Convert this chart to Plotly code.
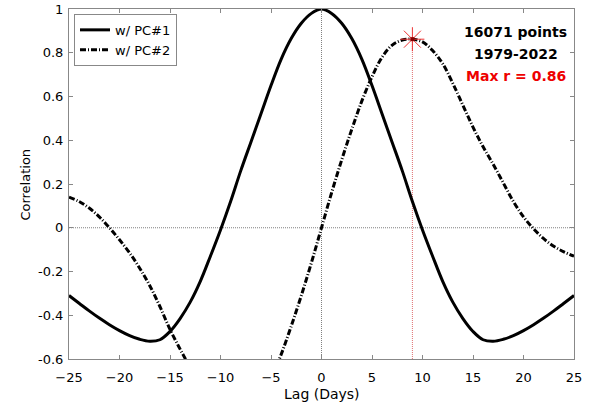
import plotly.graph_objects as go

lags = list(range(-25, 26))
corr_pc1 = [-0.31, -0.345, -0.38, -0.413, -0.443, -0.47, -0.493, -0.51, -0.519, -0.512,
            -0.474, -0.415, -0.34, -0.245, -0.13, -0.01, 0.12, 0.26, 0.39, 0.52,
            0.65, 0.77, 0.865, 0.935, 0.98, 1.0, 0.98, 0.935, 0.865, 0.77,
            0.65, 0.52, 0.39, 0.26, 0.12, -0.01, -0.13, -0.245, -0.34, -0.415,
            -0.474, -0.512, -0.519, -0.51, -0.493, -0.47, -0.443, -0.413, -0.38, -0.345, -0.31]
corr_pc2 = [0.14, 0.12, 0.09, 0.05, 0.0, -0.055, -0.115, -0.185, -0.265, -0.36,
            -0.465, -0.555, -0.64, -0.73, -0.80, -0.845, -0.862, -0.855, -0.83, -0.78,
            -0.69, -0.58, -0.45, -0.31, -0.16, 0.0, 0.16, 0.31, 0.45, 0.58,
            0.69, 0.78, 0.835, 0.858, 0.862, 0.85, 0.81, 0.75, 0.66, 0.56,
            0.46, 0.37, 0.29, 0.205, 0.12, 0.05, -0.005, -0.05, -0.085, -0.11, -0.13]
max_lag = 9
max_r = 0.862
n_points = "16071 points"
years = "1979-2022"
x_ticks = [-25, -20, -15, -10, -5, 0, 5, 10, 15, 20, 25]
y_ticks = [-0.6, -0.4, -0.2, 0, 0.2, 0.4, 0.6, 0.8, 1]
y_labels = ["-0.6", "-0.4", "-0.2", "0", "0.2", "0.4", "0.6", "0.8", "1"]

FONT = "DejaVu Sans, Liberation Sans, Arial, sans-serif"

fig = go.Figure()

# reference lines
fig.add_shape(type="line", x0=-25, x1=25, y0=0, y1=0, xref="x", yref="y",
              line=dict(color="#808080", width=1, dash="1px,1px"), layer="below")
fig.add_shape(type="line", x0=0, x1=0, y0=-0.6, y1=1, xref="x", yref="y",
              line=dict(color="#808080", width=1, dash="1px,1px"), layer="below")
fig.add_shape(type="line", x0=max_lag, x1=max_lag, y0=-0.6, y1=max_r, xref="x", yref="y",
              line=dict(color="#e07070", width=1, dash="1px,1px"), layer="below")

fig.add_trace(go.Scatter(x=lags, y=corr_pc1, mode="lines", name="w/ PC#1",
                         line=dict(color="black", width=3, shape="spline", smoothing=1.0)))
fig.add_trace(go.Scatter(x=lags, y=corr_pc2, mode="lines", name="w/ PC#2",
                         line=dict(color="black", width=3, shape="spline", smoothing=1.0,
                                   dash="6px,2px,1px,2px")))
fig.add_trace(go.Scatter(x=[max_lag], y=[max_r], mode="markers", showlegend=False,
                         marker=dict(symbol="asterisk-open", size=20, color="#ee3333",
                                     line=dict(color="#ee3333", width=1))))
fig.add_trace(go.Scatter(x=[max_lag], y=[max_r], mode="markers", showlegend=False,
                         marker=dict(symbol="square", size=4, color="#8b0000")))

fig.add_annotation(x=0.885, y=0.934, xref="paper", yref="paper", text="<b>%s</b>" % n_points,
                   xanchor="center", yanchor="middle", showarrow=False,
                   font=dict(size=14, color="black", family=FONT))
fig.add_annotation(x=0.885, y=0.871, xref="paper", yref="paper", text="<b>%s</b>" % years,
                   xanchor="center", yanchor="middle", showarrow=False,
                   font=dict(size=14, color="black", family=FONT))
fig.add_annotation(x=0.885, y=0.809, xref="paper", yref="paper", text="<b>Max r = %.2f</b>" % 0.86,
                   xanchor="center", yanchor="middle", showarrow=False,
                   font=dict(size=14, color="#ee0000", family=FONT))

# axis titles
fig.add_annotation(x=0.5, y=-0.1, xref="paper", yref="paper", text="Lag (Days)",
                   xanchor="center", yanchor="middle", showarrow=False,
                   font=dict(size=14, color="black", family=FONT))
fig.add_annotation(x=-0.088, y=0.497, xref="paper", yref="paper", text="Correlation",
                   textangle=-90, xanchor="center", yanchor="middle", showarrow=False,
                   font=dict(size=13, color="black", family=FONT))

axis_common = dict(showline=True, linecolor="#888888", linewidth=1, mirror="ticks",
                   ticks="inside", ticklen=4, tickcolor="#888888", showgrid=False,
                   zeroline=False, automargin=False,
                   tickfont=dict(size=13, color="black", family=FONT))

fig.update_xaxes(range=[-25, 25], tickvals=x_ticks, ticklabelstandoff=6, **axis_common)
fig.update_yaxes(range=[-0.6, 1], tickvals=y_ticks, ticktext=y_labels, ticklabelstandoff=2,
                 **axis_common)

fig.update_layout(
    width=592, height=403,
    margin=dict(l=69, r=18, t=9, b=44, autoexpand=False),
    paper_bgcolor="white", plot_bgcolor="white",
    font=dict(family=FONT, color="black"),
    legend=dict(x=0.0099, y=0.986, xanchor="left", yanchor="top",
                bordercolor="#888888", borderwidth=1, bgcolor="white",
                font=dict(size=13, color="black", family=FONT),
                tracegroupgap=0, itemwidth=30),
)

fig.write_html("out.html")
